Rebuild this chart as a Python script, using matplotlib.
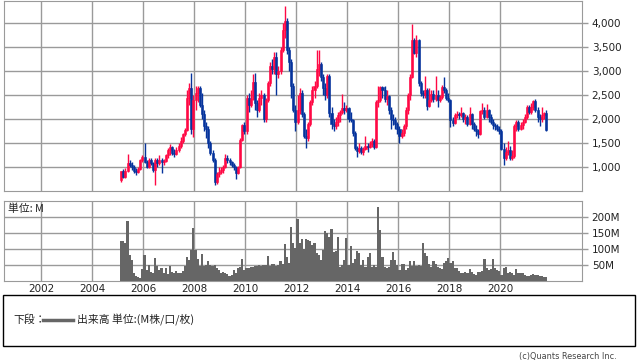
import numpy as np
import matplotlib
matplotlib.use('Agg')
import matplotlib.pyplot as plt
from matplotlib.patches import Rectangle
from matplotlib.lines import Line2D

plt.rcParams['font.family'] = ['DejaVu Sans', 'Noto Sans CJK JP']

# monthly candles, Feb 2005 .. Oct 2021
start_year, start_month = 2005, 2
opens = [
    740, 920, 800, 930, 1080, 1050, 1000, 930, 900, 960, 1150,                 # 2005
    1220, 1100, 1000, 1150, 1080, 950, 1150, 1080, 1150, 1100, 1120, 1250,     # 2006
    1350, 1420, 1300, 1280, 1350, 1450, 1550, 1700, 1780, 2450, 2650, 1800,    # 2007
    2400, 2550, 2650, 2300, 2100, 1850, 1800, 1500, 1300, 1150, 700, 850,      # 2008
    900, 950, 1000, 1200, 1150, 1100, 1050, 1000, 880, 1000, 1570, 1880,       # 2009
    1750, 2450, 2300, 2420, 2780, 2330, 2200, 2450, 2500, 2000, 2400, 2750,    # 2010
    3100, 3050, 3300, 2950, 3000, 3450, 3850, 4050, 3450, 3200, 2700, 2200,    # 2011
    1950, 2200, 2550, 2100, 1650, 1600, 1900, 2350, 2600, 2700, 3050, 3150,    # 2012
    2880, 2650, 2500, 2900, 2130, 1900, 1850, 1950, 2080, 2150, 2230, 2200,    # 2013
    2230, 2000, 1980, 1710, 1400, 1330, 1400, 1320, 1380, 1450, 1420, 1480,    # 2014
    1550, 1430, 2350, 2400, 2680, 2600, 2420, 2480, 2190, 2000, 1990, 1900,    # 2015
    1800, 1650, 1710, 1850, 2190, 2500, 2890, 3660, 3380, 3660, 2750, 2550,    # 2016
    2500, 2600, 2280, 2400, 2520, 2420, 2500, 2400, 2470, 2680, 2600, 2450,    # 2017
    2400, 1990, 1930, 2080, 2100, 2080, 2120, 2000, 2050, 1900, 2100, 1900,    # 2018
    1800, 1750, 1700, 2180, 2200, 2050, 2200, 2050, 1950, 1880, 1850, 1800,    # 2019
    1750, 1380, 1200, 1320, 1360, 1200, 1230, 1850, 1950, 1800, 1880, 1950,    # 2020
    2050, 2250, 2150, 2250, 2380, 2200, 2050, 2000, 2090, 2120,                # 2021
]
highs = [
    930, 960, 980, 1280, 1150, 1100, 1050, 980, 1000, 1180, 1250,
    1500, 1150, 1200, 1200, 1100, 1200, 1200, 1250, 1200, 1180, 1280, 1400,
    1480, 1450, 1380, 1420, 1500, 1620, 1720, 1820, 2600, 2750, 2960, 2500,
    2700, 2700, 2700, 2550, 2200, 1950, 1850, 1550, 1350, 1200, 900, 1000,
    1000, 1050, 1280, 1250, 1200, 1120, 1080, 1020, 1020, 1600, 1900, 1950,
    2500, 2550, 2600, 2950, 2960, 2400, 2550, 2600, 2550, 2450, 2800, 3200,
    3250, 3400, 3400, 3100, 3500, 4000, 4360, 4100, 3500, 3250, 2750, 2300,
    2500, 2650, 2600, 2150, 1800, 1950, 2400, 2700, 2800, 3450, 3450, 3200,
    2950, 2750, 2950, 2950, 2250, 2000, 2050, 2150, 2200, 2530, 2350, 2300,
    2250, 2150, 2000, 1750, 1450, 1500, 1450, 1420, 1650, 1500, 1550, 1600,
    1580, 2400, 2700, 2700, 2700, 2700, 2600, 2500, 2250, 2100, 2050, 1950,
    1850, 1800, 1900, 2250, 2550, 2950, 3980, 3700, 3750, 3680, 2800, 2600,
    2900, 2650, 2650, 2600, 2600, 2900, 2600, 2500, 2720, 2890, 2650, 2550,
    2420, 2050, 2120, 2180, 2150, 2250, 2150, 2100, 2080, 2250, 2120, 1950,
    1880, 1800, 2200, 2330, 2250, 2320, 2220, 2100, 2000, 1920, 1900, 1850,
    1800, 1500, 1420, 1550, 1450, 1350, 1900, 1980, 1980, 1950, 2000, 2100,
    2300, 2300, 2330, 2400, 2420, 2250, 2100, 2250, 2150, 2200,
]
lows = [
    700, 770, 780, 900, 1000, 950, 880, 840, 880, 940, 1100,
    1080, 980, 980, 1050, 900, 640, 1000, 1050, 880, 1050, 1100, 1200,
    1250, 1250, 1220, 1250, 1320, 1400, 1500, 1650, 1750, 2300, 1700, 1640,
    2200, 2350, 2250, 2000, 1750, 1600, 1400, 1250, 1100, 630, 650, 800,
    850, 880, 980, 1080, 1050, 1000, 950, 750, 850, 980, 1550, 1700,
    1700, 2150, 2250, 2400, 2200, 2050, 2150, 2300, 1950, 1950, 2350, 2700,
    2950, 2950, 2500, 2850, 2950, 3400, 3700, 3350, 3000, 2450, 2150, 1750,
    1900, 2100, 2050, 1600, 1400, 1550, 1850, 2300, 2450, 2650, 2900, 2800,
    2500, 2400, 2450, 2050, 1800, 1750, 1800, 1850, 1950, 2100, 2100, 2150,
    1950, 1950, 1650, 1350, 1220, 1300, 1280, 1260, 1350, 1320, 1400, 1430,
    1380, 1400, 2250, 2350, 2450, 2350, 2300, 2100, 1800, 1880, 1800, 1700,
    1510, 1600, 1650, 1800, 2100, 2400, 2850, 3350, 3300, 2700, 2480, 2450,
    2450, 2200, 2250, 2350, 2350, 2380, 2250, 2350, 2430, 2550, 2400, 2350,
    1830, 1850, 1900, 2020, 2000, 2050, 1950, 1900, 1850, 1880, 1800, 1750,
    1650, 1600, 1680, 2100, 2000, 2030, 1950, 1900, 1800, 1780, 1750, 1700,
    1350, 1050, 1150, 1250, 1150, 1150, 1200, 1750, 1750, 1780, 1800, 1920,
    2000, 2100, 2100, 2200, 2150, 1950, 1850, 1950, 2000, 1760,
]
closes = [
    920, 800, 930, 1080, 1050, 1000, 930, 900, 960, 1150, 1220,
    1100, 1000, 1150, 1080, 950, 1150, 1080, 1150, 1100, 1120, 1250, 1350,
    1420, 1300, 1280, 1350, 1450, 1550, 1700, 1780, 2450, 2650, 1800, 2400,
    2550, 2650, 2300, 2100, 1850, 1800, 1500, 1300, 1150, 700, 850, 900,
    950, 1000, 1200, 1150, 1100, 1050, 1000, 880, 1000, 1570, 1880, 1750,
    2450, 2300, 2420, 2780, 2330, 2200, 2450, 2500, 2000, 2400, 2750, 3100,
    3050, 3300, 2950, 3000, 3450, 3850, 4050, 3450, 3200, 2700, 2200, 1950,
    2200, 2550, 2100, 1650, 1600, 1900, 2350, 2600, 2700, 3050, 3150, 2880,
    2650, 2500, 2900, 2130, 1900, 1850, 1950, 2080, 2150, 2230, 2200, 2230,
    2000, 1980, 1710, 1400, 1330, 1400, 1320, 1380, 1450, 1420, 1480, 1550,
    1430, 2350, 2400, 2680, 2600, 2420, 2480, 2190, 2000, 1990, 1900, 1800,
    1650, 1710, 1850, 2190, 2500, 2890, 3660, 3380, 3660, 2750, 2550, 2500,
    2600, 2280, 2400, 2520, 2420, 2500, 2400, 2470, 2680, 2600, 2450, 2400,
    1990, 1930, 2080, 2100, 2080, 2120, 2000, 2050, 1900, 2100, 1900, 1800,
    1750, 1700, 2180, 2200, 2050, 2200, 2050, 1950, 1880, 1850, 1800, 1750,
    1380, 1200, 1320, 1360, 1200, 1230, 1850, 1950, 1800, 1880, 1950, 2050,
    2250, 2150, 2250, 2380, 2200, 2050, 2000, 2090, 2120, 1780,
]
# monthly volume, millions
volume = [
    125, 125, 118, 188, 81, 66, 26, 16, 14, 10, 36,
    81, 34, 50, 29, 26, 71, 47, 34, 40, 24, 40, 22,
    47, 29, 26, 31, 26, 24, 31, 47, 74, 66, 97, 165,
    97, 68, 47, 84, 47, 50, 62, 50, 47, 50, 40, 34,
    26, 29, 26, 22, 16, 19, 34, 26, 40, 45, 68, 34,
    40, 40, 45, 45, 47, 47, 50, 47, 50, 50, 78, 47,
    53, 53, 47, 50, 62, 53, 116, 74, 55, 168, 120, 102,
    193, 118, 130, 99, 130, 128, 125, 112, 118, 86, 81, 66,
    97, 157, 149, 136, 161, 92, 95, 136, 45, 50, 66, 133,
    50, 109, 55, 68, 94, 86, 50, 66, 45, 76, 89, 45,
    50, 45, 232, 159, 74, 45, 40, 45, 66, 92, 66, 50,
    34, 53, 52, 34, 40, 64, 47, 64, 47, 50, 47, 120,
    86, 78, 53, 45, 61, 53, 45, 40, 36, 55, 64, 71,
    55, 62, 40, 40, 32, 26, 26, 29, 26, 36, 29, 22,
    19, 29, 29, 32, 68, 40, 34, 36, 68, 40, 34, 32,
    19, 40, 45, 24, 29, 24, 19, 36, 26, 24, 24, 19,
    16, 16, 19, 22, 19, 19, 16, 16, 14, 11,
]
price_ticks = [1000, 1500, 2000, 2500, 3000, 3500, 4000]
vol_ticks = [50, 100, 150, 200]
year_ticks = list(range(2002, 2021, 2))

RED = '#ff0844'
BLUE = '#05339c'
GRID = '#9a9a9a'
W, H = 638, 362
JP = ['Noto Sans CJK JP', 'DejaVu Sans']

o = np.array(opens, float); h = np.array(highs, float)
l = np.array(lows, float); c = np.array(closes, float)
n = len(closes)
x = start_year + (start_month - 1 + np.arange(n) + 0.5) / 12.0
up = c >= o
cols = np.where(up, RED, BLUE)

fig = plt.figure(figsize=(W / 100, H / 100), dpi=100)


def px_axes(left, top, right, bottom):
    return fig.add_axes([left / W, 1 - bottom / H, (right - left) / W, (bottom - top) / H])


XL = (2000.51, 2023.2)

ax = px_axes(3.5, 0.5, 582, 190.5)
ax.vlines(x, l, h, colors=cols, lw=1.0, zorder=3)
ax.bar(x, np.maximum(np.abs(c - o), 20), bottom=np.minimum(o, c), width=0.95 / 12,
       color=cols, edgecolor=cols, lw=0.4, zorder=3)
ax.set_xlim(*XL)
ax.set_ylim(515, 4475)
ax.set_xticks(year_ticks)
ax.set_yticks(price_ticks)
ax.set_yticklabels([f'{v:,}' for v in price_ticks])
ax.yaxis.tick_right()
ax.tick_params(axis='y', length=4, width=1, color=GRID, labelsize=7.5, labelcolor='#222222', pad=3)
ax.tick_params(axis='x', length=0, labelbottom=False)
ax.grid(True, color=GRID, lw=1, zorder=0)
for s in ax.spines.values():
    s.set_color(GRID)

av = px_axes(3.5, 201, 582, 281)
av.bar(x, volume, width=1 / 12, color='#666666', lw=0, zorder=3)
av.set_xlim(*XL)
av.set_ylim(0, 250)
av.set_xticks(year_ticks)
av.set_xticklabels([str(y) for y in year_ticks])
av.set_yticks(vol_ticks)
av.set_yticklabels([f'{v}M' for v in vol_ticks])
av.yaxis.tick_right()
av.tick_params(axis='y', length=4, width=1, color=GRID, labelsize=7.5, labelcolor='#222222', pad=3)
av.tick_params(axis='x', length=0, labelsize=7.5, labelcolor='#222222', pad=2)
av.grid(True, color=GRID, lw=1, zorder=0)
for s in av.spines.values():
    s.set_color(GRID)
av.text(0.008, 0.9, '単位: M', transform=av.transAxes, fontsize=7.8, va='center',
        ha='left', color='#222222', family=JP)

# legend box under the charts
fig.add_artist(Rectangle((3 / W, 1 - 346 / H), 632 / W, 51 / H, transform=fig.transFigure,
                         fill=False, ec='black', lw=1))
fig.text(13 / W, 1 - 320 / H, '下段：', fontsize=7.8, va='center', color='#222222', family=JP)
fig.add_artist(Line2D([43 / W, 73 / W], [1 - 319.5 / H] * 2, transform=fig.transFigure,
                      color='#666666', lw=2.5))
fig.text(77 / W, 1 - 320 / H, '出来高 単位:(M株/口/枚)', fontsize=7.8, va='center',
         color='#222222', family=JP)
fig.text(617 / W, 1 - 357 / H, '(c)Quants Research Inc.', fontsize=5.9, va='center',
         ha='right', color='#444444')

fig.savefig('out.png', dpi=100)
